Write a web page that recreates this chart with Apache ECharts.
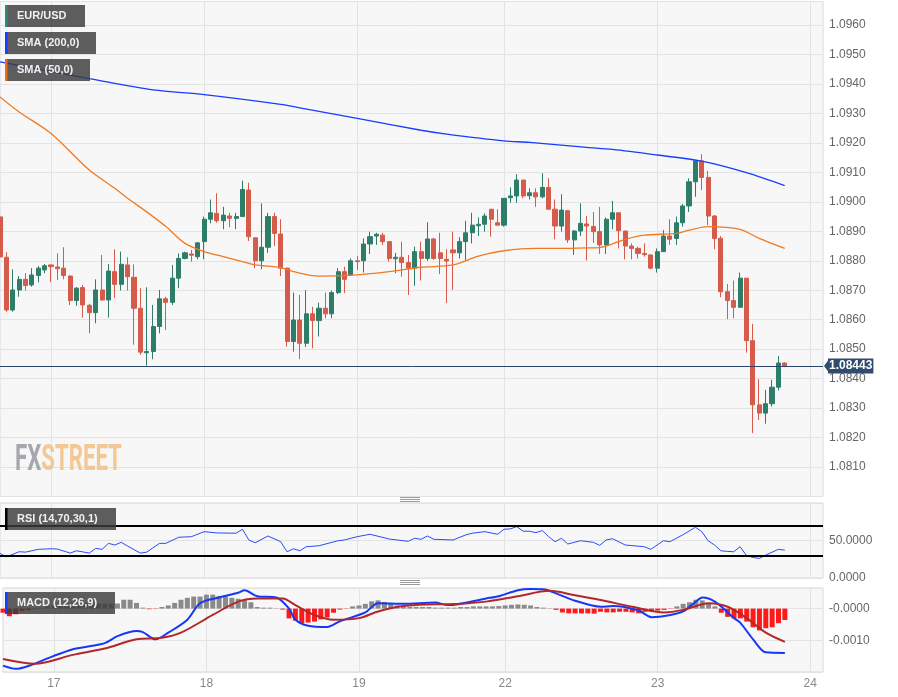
<!DOCTYPE html>
<html>
<head>
<meta charset="utf-8">
<title>EUR/USD</title>
<script src="https://cdn.jsdelivr.net/npm/echarts@6.0.0/dist/echarts.min.js"></script>
<style>
  html, body { margin: 0; padding: 0; background: #fff; }
  #chart { width: 898px; height: 697px; }
</style>
</head>
<body>
<div id="chart"></div>
<script>
// hourly slots, day labels sit on the midnight slot
var dayLabels = ['17', '18', '19', '22', '23', '24'];
var dayStarts = [8, 32, 56, 79, 103, 127];
var slotCount = 130;

var opens = [1.08949,1.08812,1.08633,1.08701,1.08737,1.08718,1.08750,1.08769,1.08786,1.08779,1.08775,1.08748,1.08665,1.08709,1.08649,1.08624,1.08701,1.08667,1.08763,1.08720,1.08786,1.08744,1.08639,1.08488,1.08492,1.08577,1.08671,1.08659,1.08741,1.08808,1.08823,1.08814,1.08865,1.08941,1.08961,1.08936,1.08952,1.08944,1.08950,1.09040,1.08878,1.08800,1.08846,1.08950,1.08891,1.08775,1.08526,1.08599,1.08520,1.08620,1.08597,1.08639,1.08620,1.08692,1.08763,1.08752,1.08800,1.08800,1.08857,1.08884,1.08887,1.08865,1.08807,1.08812,1.08794,1.08775,1.08831,1.08808,1.08874,1.08827,1.08805,1.08837,1.08827,1.08865,1.08895,1.08919,1.08924,1.08975,1.08929,1.08921,1.09014,1.09020,1.09074,1.09021,1.09031,1.09017,1.09049,1.08975,1.08918,1.08970,1.08871,1.08901,1.08925,1.08916,1.08899,1.08854,1.08941,1.08963,1.08901,1.08850,1.08842,1.08825,1.08820,1.08775,1.08831,1.08884,1.08876,1.08929,1.08986,1.09068,1.09139,1.09083,1.08952,1.08876,1.08695,1.08665,1.08642,1.08741,1.08529,1.08311,1.08283,1.08315,1.08371,1.08453];
var highs = [1.08972,1.08829,1.08771,1.08748,1.08758,1.08775,1.08782,1.08789,1.08787,1.08825,1.08846,1.08752,1.08711,1.08718,1.08654,1.08737,1.08820,1.08789,1.08839,1.08831,1.08812,1.08788,1.08707,1.08710,1.08650,1.08701,1.08678,1.08786,1.08825,1.08831,1.08837,1.08861,1.08950,1.09008,1.09029,1.08983,1.08963,1.08963,1.09072,1.09065,1.08878,1.08995,1.08963,1.08963,1.08941,1.08777,1.08692,1.08684,1.08701,1.08644,1.08658,1.08692,1.08699,1.08775,1.08780,1.08808,1.08816,1.08876,1.08899,1.08895,1.08895,1.08865,1.08827,1.08865,1.08820,1.08848,1.08865,1.08931,1.08878,1.08895,1.08839,1.08899,1.08880,1.08936,1.08963,1.08947,1.08961,1.08975,1.08975,1.09012,1.09049,1.09094,1.09074,1.09046,1.09046,1.09097,1.09080,1.09008,1.09026,1.08970,1.08904,1.08995,1.08952,1.08966,1.08983,1.08947,1.09003,1.08963,1.08901,1.08859,1.08848,1.08859,1.08820,1.08842,1.08904,1.08941,1.08950,1.08993,1.09080,1.09142,1.09162,1.09105,1.08955,1.08884,1.08721,1.08733,1.08760,1.08741,1.08586,1.08398,1.08362,1.08396,1.08477,1.08455];
var lows = [1.08796,1.08627,1.08627,1.08678,1.08699,1.08712,1.08727,1.08758,1.08727,1.08735,1.08737,1.08650,1.08647,1.08607,1.08554,1.08588,1.08664,1.08607,1.08673,1.08699,1.08699,1.08515,1.08481,1.08444,1.08466,1.08554,1.08565,1.08650,1.08707,1.08805,1.08797,1.08805,1.08805,1.08927,1.08929,1.08907,1.08914,1.08907,1.08950,1.08867,1.08775,1.08771,1.08827,1.08850,1.08748,1.08509,1.08492,1.08466,1.08507,1.08503,1.08543,1.08605,1.08605,1.08687,1.08690,1.08748,1.08769,1.08760,1.08823,1.08854,1.08854,1.08797,1.08758,1.08746,1.08684,1.08715,1.08733,1.08800,1.08803,1.08755,1.08656,1.08701,1.08808,1.08803,1.08859,1.08884,1.08899,1.08882,1.08921,1.08916,1.08997,1.08997,1.09012,1.09008,1.08983,1.09012,1.08975,1.08873,1.08899,1.08861,1.08820,1.08884,1.08801,1.08861,1.08823,1.08823,1.08907,1.08842,1.08805,1.08805,1.08808,1.08814,1.08771,1.08760,1.08831,1.08854,1.08854,1.08916,1.08966,1.09017,1.09040,1.08921,1.08839,1.08676,1.08602,1.08605,1.08642,1.08488,1.08215,1.08260,1.08247,1.08305,1.08360,1.08439];
var closes = [1.08813,1.08633,1.08701,1.08737,1.08716,1.08752,1.08775,1.08783,1.08780,1.08773,1.08750,1.08665,1.08707,1.08650,1.08624,1.08701,1.08667,1.08765,1.08720,1.08788,1.08746,1.08639,1.08490,1.08492,1.08577,1.08671,1.08659,1.08741,1.08808,1.08827,1.08819,1.08861,1.08941,1.08963,1.08936,1.08955,1.08944,1.08950,1.09042,1.08882,1.08800,1.08846,1.08950,1.08893,1.08775,1.08526,1.08599,1.08520,1.08620,1.08597,1.08639,1.08620,1.08692,1.08763,1.08737,1.08800,1.08797,1.08857,1.08882,1.08890,1.08865,1.08808,1.08812,1.08794,1.08775,1.08831,1.08808,1.08874,1.08808,1.08808,1.08799,1.08827,1.08865,1.08895,1.08921,1.08924,1.08952,1.08941,1.08921,1.09012,1.09020,1.09074,1.09020,1.09031,1.09017,1.09049,1.08975,1.08918,1.08972,1.08871,1.08901,1.08927,1.08918,1.08899,1.08854,1.08941,1.08963,1.08902,1.08850,1.08842,1.08825,1.08821,1.08775,1.08831,1.08884,1.08873,1.08929,1.08986,1.09068,1.09139,1.09083,1.08952,1.08876,1.08695,1.08665,1.08642,1.08741,1.08529,1.08311,1.08283,1.08315,1.08371,1.08453,1.08443];

// [slot, value]
var sma200 = [[0,1.09475],[4,1.09459],[8,1.09442],[14,1.09418],[24,1.09380],[32,1.09364],[44,1.09331],[47,1.09319],[56,1.09283],[66,1.09243],[70,1.09230],[79,1.09207],[83,1.09202],[92,1.09185],[96,1.09178],[103,1.09159],[110,1.09138],[117,1.09099],[123,1.09055]];
var sma50 = [[0,1.09356],[3,1.09305],[8,1.09232],[14,1.09108],[18,1.09046],[20,1.09012],[23,1.08966],[26,1.08916],[29,1.08859],[32,1.08831],[35,1.08814],[38,1.08797],[40,1.08786],[44,1.08777],[46,1.08763],[50,1.08748],[56,1.08752],[61,1.08763],[66,1.08778],[71,1.08786],[75,1.08816],[79,1.08834],[84,1.08842],[87,1.08842],[92,1.08844],[94,1.08845],[98,1.08873],[101,1.08887],[106,1.08893],[108,1.08904],[111,1.08916],[116,1.08907],[119,1.08876],[123,1.08842]];
var rsi = [[0,32.8],[1,28.2],[3,35],[4,34.5],[6,38.2],[8,39],[9,38.6],[11,33.2],[12,36.3],[14,33.2],[15,39.5],[16,38.2],[17,46.2],[18,44],[19,47.6],[20,42.6],[22,33.2],[23,34.5],[25,46.2],[26,46.2],[28,54.3],[30,55.1],[32,61.8],[34,60.1],[37,59.7],[38,65],[39,50.7],[40,47],[42,56],[44,48.4],[45,35],[46,39],[47,36.3],[48,41.7],[50,43],[53,49.7],[54,50.7],[55,53],[56,55.1],[58,58.3],[61,52],[64,48.9],[65,53],[66,51.6],[67,56],[68,51.6],[71,50.7],[73,57.4],[74,59.7],[76,61.8],[78,58.3],[79,65],[80,65.5],[81,68.5],[82,62.4],[83,62.4],[84,60.5],[85,63.2],[86,55.1],[87,48.4],[88,53],[89,45.3],[91,49.7],[93,47.6],[94,43.5],[95,50.7],[96,52.4],[98,44],[101,41.7],[102,38.2],[104,49.7],[105,48.4],[107,57.4],[109,67.7],[110,61.8],[111,49.7],[112,44],[113,36.3],[114,35.5],[115,35],[116,41.7],[117,30],[118,27.4],[119,26.1],[120,30.5],[122,38.2],[123,37.2]];
var rsiLevels = [70, 30];
var macdLine = [[0,-0.0018],[2,-0.0019],[4,-0.00181],[8,-0.00149],[11,-0.00128],[13,-0.00121],[16,-0.00109],[18,-0.00087],[21,-0.00071],[22,-0.00074],[24,-0.00097],[26,-0.00076],[29,-0.00035],[31,0.00017],[34,0.00035],[37,0.0005],[38,0.00058],[40,0.00039],[43,0.00035],[45,0],[46,-0.00035],[48,-0.00054],[51,-0.00058],[53,-0.0004],[57,-0.00012],[59,0.00017],[63,0.00015],[68,0.00019],[70,0.00011],[76,0.00032],[78,0.00039],[81,0.00058],[83,0.00062],[85,0.00061],[87,0.00048],[90,0.00025],[94,0.00006],[96,0.00008],[100,-0.00006],[102,-0.00027],[105,-0.0002],[107,-0.00009],[109,0.00022],[110,0.00035],[112,0.00022],[115,-0.0003],[116,-0.00045],[118,-0.00097],[120,-0.00138],[123,-0.0014]];
var signalLine = [[0,-0.00159],[5,-0.00174],[11,-0.00146],[16,-0.00126],[21,-0.00097],[25,-0.00092],[28,-0.00076],[33,-0.0002],[37,0.00022],[40,0.00032],[44,0.00032],[46,0.00011],[49,-0.0002],[52,-0.00035],[56,-0.0003],[59,-0.00009],[63,0.00008],[68,0.00014],[70,0.00014],[76,0.00022],[81,0.00039],[86,0.00056],[90,0.00042],[94,0.00027],[99,0.00006],[104,-0.00012],[107,-0.00004],[111,0.00017],[114,0.00006],[117,-0.0003],[120,-0.00076],[123,-0.00105]];
var histogram = [-0.00013,-0.00024,-0.00018,-0.00008,-0.00005,-0.00002,0.00003,0.00007,0.0001,0.00013,0.00015,0.00017,0.00017,0.00016,0.00016,0.00016,0.00015,0.00016,0.00016,0.00028,0.00028,0.00018,0.00003,-0.00002,-0.00001,0.00005,0.0001,0.00018,0.00028,0.00034,0.00038,0.00038,0.00044,0.00044,0.0004,0.00038,0.00034,0.00031,0.00026,0.0002,0.00005,0.00003,0.00003,0.00001,-0.00003,-0.00031,-0.00038,-0.00046,-0.00044,-0.00041,-0.00034,-0.00028,-0.00013,-0.00003,-0.00001,0.00007,0.0001,0.00015,0.00023,0.00026,0.00021,0.00015,0.0001,0.00005,0.00005,0.00005,0.00005,0.00005,0.00003,0.00003,0.00003,0.00003,0.00005,0.00005,0.00007,0.00007,0.00007,0.00007,0.00008,0.0001,0.00012,0.00013,0.00012,0.0001,0.00005,0.00003,0.00001,-0.00004,-0.00012,-0.00015,-0.00015,-0.00015,-0.00015,-0.00016,-0.0001,-0.00012,-0.00012,-0.0001,-0.0001,-0.00012,-0.00015,-0.0001,-0.00008,-0.00006,-0.00004,-0.00001,0.00007,0.00015,0.0002,0.00028,0.00026,0.00015,0.00007,-0.00013,-0.00026,-0.00031,-0.00031,-0.00041,-0.00059,-0.00069,-0.00062,-0.00059,-0.00046,-0.00036];

var categories = [];
for (var i = 0; i < slotCount; i++) categories.push('');
dayStarts.forEach(function (s, k) { categories[s] = dayLabels[k]; });

var candles = opens.map(function (o, i) { return [o, closes[i], lows[i], highs[i]]; });
var lastClose = closes[closes.length - 1];

var gridLine = '#e3e3e3';
var frame = '#d5d9e4';

function xAxisFor(idx, showLabels) {
  return {
    type: 'category', gridIndex: idx, data: categories, boundaryGap: false,
    axisLine: { show: false }, axisTick: { show: false },
    axisLabel: { show: showLabels, interval: 0, color: '#888', fontSize: 12, margin: 6, fontFamily: 'Arial' },
    splitLine: { show: true, interval: function (i, v) { return v !== ''; }, lineStyle: { color: gridLine } }
  };
}

function yLabel(fmt) {
  return { color: '#666', fontSize: 12, margin: 6, fontFamily: 'Arial', showMinLabel: false, showMaxLabel: false, formatter: fmt };
}

var myChart = echarts.init(document.getElementById('chart'));

var option = {
  animation: false,
  backgroundColor: '#fff',
  grid: [
    { left: -1, right: 75, top: 1.5, height: 495, show: true, backgroundColor: '#f7f7f7', borderColor: frame },
    { left: -1, right: 75, top: 503, height: 75, show: true, backgroundColor: '#f7f7f7', borderColor: frame },
    { left: -1, right: 75, top: 588, height: 84, show: true, backgroundColor: '#f7f7f7', borderColor: frame }
  ],
  xAxis: [xAxisFor(0, false), xAxisFor(1, false), xAxisFor(2, true)],
  yAxis: [
    {
      type: 'value', gridIndex: 0, position: 'right', min: 1.0800, max: 1.0968, interval: 0.001,
      axisLine: { show: false }, axisTick: { show: false },
      axisLabel: yLabel(function (v) { return v.toFixed(4); }),
      splitLine: { lineStyle: { color: gridLine } }
    },
    {
      type: 'value', gridIndex: 1, position: 'right', min: 0, max: 100, interval: 50,
      axisLine: { show: false }, axisTick: { show: false },
      axisLabel: { color: '#666', fontSize: 12, margin: 6, fontFamily: 'Arial', showMaxLabel: false,
        formatter: function (v) { return v.toFixed(4); } },
      splitLine: { lineStyle: { color: gridLine } }
    },
    {
      type: 'value', gridIndex: 2, position: 'right', min: -0.002, max: 0.00065, interval: 0.001,
      axisLine: { show: false }, axisTick: { show: false },
      axisLabel: yLabel(function (v) { return (v <= 0.0000001 ? '-' : '') + Math.abs(v).toFixed(4); }),
      splitLine: { lineStyle: { color: gridLine } }
    }
  ],
  series: [
    {
      name: 'EUR/USD', type: 'candlestick', xAxisIndex: 0, yAxisIndex: 0,
      data: candles, barWidth: 4.6, clip: true,
      itemStyle: { color: '#2e7d69', color0: '#d65b4b', borderColor: '#2e7d69', borderColor0: '#d65b4b', borderWidth: 1 }
    },
    {
      name: 'SMA (200,0)', type: 'line', xAxisIndex: 0, yAxisIndex: 0, data: sma200,
      showSymbol: false, smooth: 0.3, lineStyle: { color: '#1a3cff', width: 1.3 },
      markLine: {
        silent: true, symbol: 'none', precision: 5,
        data: [{ yAxis: lastClose }],
        lineStyle: { color: '#2b4669', width: 1, type: 'solid' },
        label: {
          show: true, position: 'end', distance: 5,
          formatter: lastClose.toFixed(5),
          color: '#fff', fontWeight: 'bold', fontSize: 12, fontFamily: 'Arial',
          backgroundColor: '#2f4b6e', padding: [2, 1, 1, 1]
        }
      }
    },
    {
      name: 'SMA (50,0)', type: 'line', xAxisIndex: 0, yAxisIndex: 0, data: sma50,
      showSymbol: false, smooth: 0.3, lineStyle: { color: '#f07a22', width: 1.3 }
    },
    {
      name: 'RSI', type: 'line', xAxisIndex: 1, yAxisIndex: 1, data: rsi,
      showSymbol: false, lineStyle: { color: '#2a4cf5', width: 1 },
      markLine: {
        silent: true, symbol: 'none', label: { show: false },
        lineStyle: { color: '#000', width: 2, type: 'solid' },
        data: rsiLevels.map(function (v) { return { yAxis: v }; })
      }
    },
    {
      name: 'Histogram', type: 'bar', xAxisIndex: 2, yAxisIndex: 2, data: histogram, barWidth: 5,
      itemStyle: { color: function (p) { return p.value >= 0 ? '#8a8a8a' : '#ff1a1a'; } }
    },
    {
      name: 'MACD', type: 'line', xAxisIndex: 2, yAxisIndex: 2, data: macdLine,
      showSymbol: false, smooth: 0.3, lineStyle: { color: '#1438f5', width: 2 }
    },
    {
      name: 'Signal', type: 'line', xAxisIndex: 2, yAxisIndex: 2, data: signalLine,
      showSymbol: false, smooth: 0.3, lineStyle: { color: '#b3262a', width: 2 }
    }
  ]
};

myChart.setOption(option);

// legend tags, watermark, pane handles
function tag(x, y, w, text, barColor) {
  return [
    { type: 'rect', z: 100, shape: { x: x, y: y, width: w, height: 22 }, style: { fill: 'rgba(58,58,58,0.82)' } },
    { type: 'rect', z: 101, shape: { x: x, y: y, width: 2.5, height: 22 }, style: { fill: barColor } },
    { type: 'text', z: 101, x: x + 12, y: y + 11,
      style: { text: text, fill: '#f0f0f0', fontSize: 11, fontWeight: 'bold', fontFamily: 'Arial', verticalAlign: 'middle' } }
  ];
}
function handle(y) {
  return [0, 2, 4].map(function (d) {
    return { type: 'line', z: 50, shape: { x1: 400, y1: y + d, x2: 420, y2: y + d }, style: { stroke: '#9a9a9a', lineWidth: 1 } };
  });
}
var py = myChart.convertToPixel({ yAxisIndex: 0 }, lastClose);
var elements = []
  .concat(tag(5, 5, 80, 'EUR/USD', '#2e8b75'))
  .concat(tag(5, 32, 91, 'SMA (200,0)', '#1a3cff'))
  .concat(tag(5, 59, 85, 'SMA (50,0)', '#f06a10'))
  .concat(tag(5, 508, 111, 'RSI (14,70,30,1)', '#000'))
  .concat(tag(5, 592, 110, 'MACD (12,26,9)', '#1a3cff'))
  .concat(handle(497.5))
  .concat(handle(580.5))
  .concat([
    { type: 'polygon', z: 100, shape: { points: [[824, py], [828.5, py - 6], [828.5, py + 6]] }, style: { fill: '#2f4b6e' } },
    { type: 'text', z: 1, x: 15, y: 461, scaleX: 0.6,
      style: {
        text: '{a|FX}{b|STREET}', verticalAlign: 'middle', opacity: 0.9,
        rich: {
          a: { fill: '#9c9ea5', fontSize: 37, fontWeight: 'bold', fontFamily: 'Roboto' },
          b: { fill: '#f2c289', fontSize: 37, fontWeight: 'bold', fontFamily: 'Roboto' }
        }
      } }
  ]);
myChart.setOption({ graphic: elements });
</script>
</body>
</html>
